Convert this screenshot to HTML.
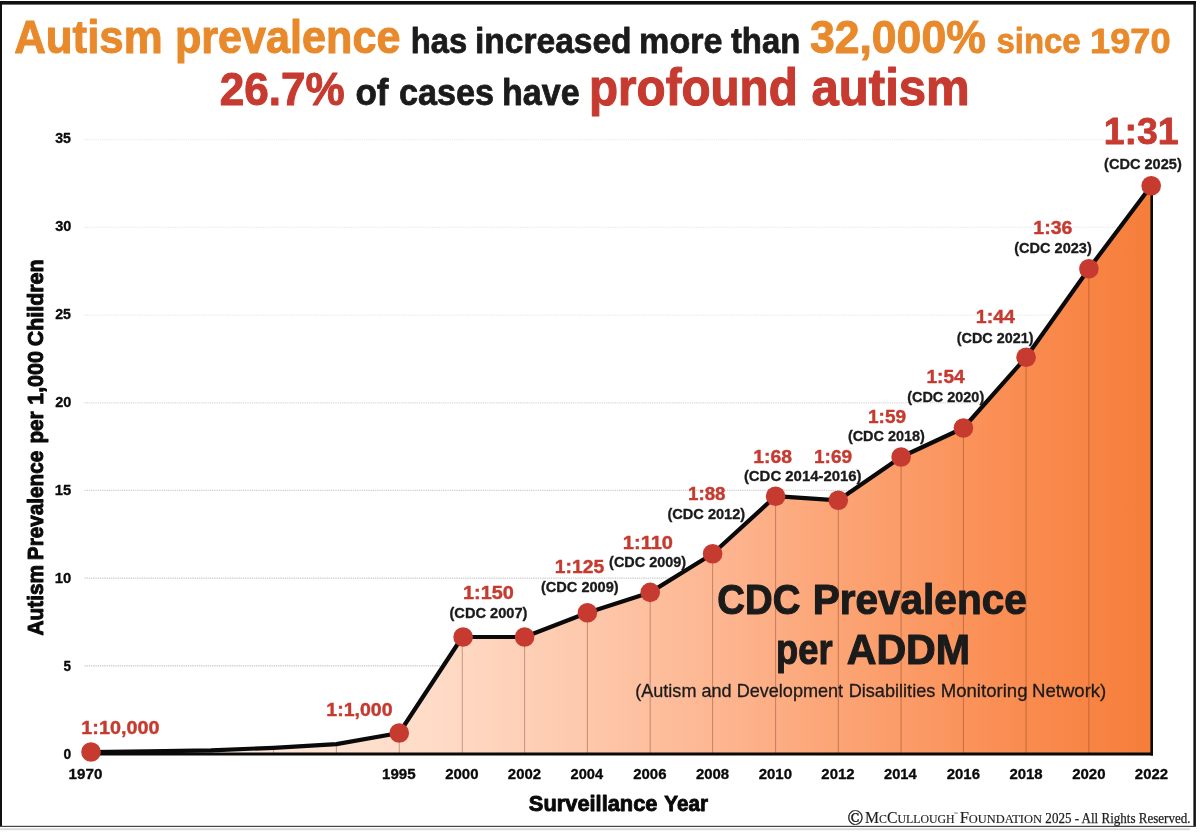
<!DOCTYPE html>
<html lang="en"><head><meta charset="utf-8"><title>Autism prevalence chart</title>
<style>html,body{margin:0;padding:0;background:#fff;}svg{display:block;}text{white-space:pre;}</style></head>
<body>
<svg width="1200" height="834" viewBox="0 0 1200 834">
<defs><linearGradient id="g" gradientUnits="userSpaceOnUse" x1="91" y1="0" x2="1152" y2="0"><stop offset="0" stop-color="#FFF0E6"/><stop offset="0.329" stop-color="#FEDBC6"/><stop offset="0.437" stop-color="#FECCB1"/><stop offset="0.499" stop-color="#FDC3A4"/><stop offset="0.616" stop-color="#FDB28B"/><stop offset="0.678" stop-color="#FCA87B"/><stop offset="0.852" stop-color="#FA8F55"/><stop offset="0.97" stop-color="#F7813F"/><stop offset="1" stop-color="#F67D3A"/></linearGradient></defs>
<rect width="1200" height="834" fill="#fff"/>
<rect x="0" y="1" width="1196" height="3.6" fill="#111"/>
<rect x="0" y="1" width="2" height="826" fill="#111"/>
<rect x="1193.4" y="1" width="2.5" height="826" fill="#111"/>
<rect x="0" y="825.8" width="1196" height="1.2" fill="#444"/>
<rect x="0" y="828.2" width="1190" height="2" fill="#dcdcdc"/>
<line x1="84.5" x2="1151" y1="665.82" y2="665.82" stroke="#c6c6c6" stroke-width="1.3" stroke-dasharray="1.3 0.9"/>
<line x1="84.5" x2="1151" y1="578.13" y2="578.13" stroke="#cacaca" stroke-width="1.3" stroke-dasharray="1.3 0.9"/>
<line x1="84.5" x2="1151" y1="490.44" y2="490.44" stroke="#d0d0d0" stroke-width="1.3" stroke-dasharray="1.3 0.9"/>
<line x1="84.5" x2="1151" y1="402.76" y2="402.76" stroke="#e0e0e0" stroke-width="1.3" stroke-dasharray="1.3 0.9"/>
<line x1="84.5" x2="1151" y1="315.08" y2="315.08" stroke="#eaeaea" stroke-width="1.3" stroke-dasharray="1.3 0.9"/>
<line x1="84.5" x2="1151" y1="227.39" y2="227.39" stroke="#ececec" stroke-width="1.3" stroke-dasharray="1.3 0.9"/>
<line x1="84.5" x2="1151" y1="139.71" y2="139.71" stroke="#ededed" stroke-width="1.3" stroke-dasharray="1.3 0.9"/>
<polygon points="91.00,752.00 148.20,751.40 211.00,750.30 273.60,747.80 336.40,744.10 399.25,733.00 462.30,637.00 524.60,637.00 587.40,612.70 650.20,592.40 712.60,553.80 775.60,496.20 838.30,500.30 901.10,457.00 963.40,428.00 1026.10,357.20 1088.90,268.80 1151.20,185.70 1151.20,753.9 91.00,753.9" fill="url(#g)"/>
<line x1="211.00" x2="211.00" y1="750.30" y2="753.9" stroke="#7a3a1c" stroke-opacity="0.42" stroke-width="1"/>
<line x1="273.60" x2="273.60" y1="747.80" y2="753.9" stroke="#7a3a1c" stroke-opacity="0.42" stroke-width="1"/>
<line x1="336.40" x2="336.40" y1="744.10" y2="753.9" stroke="#7a3a1c" stroke-opacity="0.42" stroke-width="1"/>
<line x1="399.25" x2="399.25" y1="733.00" y2="753.9" stroke="#7a3a1c" stroke-opacity="0.42" stroke-width="1"/>
<line x1="462.30" x2="462.30" y1="637.00" y2="753.9" stroke="#7a3a1c" stroke-opacity="0.42" stroke-width="1"/>
<line x1="524.60" x2="524.60" y1="637.00" y2="753.9" stroke="#7a3a1c" stroke-opacity="0.42" stroke-width="1"/>
<line x1="587.40" x2="587.40" y1="612.70" y2="753.9" stroke="#7a3a1c" stroke-opacity="0.42" stroke-width="1"/>
<line x1="650.20" x2="650.20" y1="592.40" y2="753.9" stroke="#7a3a1c" stroke-opacity="0.42" stroke-width="1"/>
<line x1="712.60" x2="712.60" y1="553.80" y2="753.9" stroke="#7a3a1c" stroke-opacity="0.42" stroke-width="1"/>
<line x1="775.60" x2="775.60" y1="496.20" y2="753.9" stroke="#7a3a1c" stroke-opacity="0.42" stroke-width="1"/>
<line x1="838.30" x2="838.30" y1="500.30" y2="753.9" stroke="#7a3a1c" stroke-opacity="0.42" stroke-width="1"/>
<line x1="901.10" x2="901.10" y1="457.00" y2="753.9" stroke="#7a3a1c" stroke-opacity="0.42" stroke-width="1"/>
<line x1="963.40" x2="963.40" y1="428.00" y2="753.9" stroke="#7a3a1c" stroke-opacity="0.42" stroke-width="1"/>
<line x1="1026.10" x2="1026.10" y1="357.20" y2="753.9" stroke="#7a3a1c" stroke-opacity="0.42" stroke-width="1"/>
<line x1="1088.90" x2="1088.90" y1="268.80" y2="753.9" stroke="#7a3a1c" stroke-opacity="0.42" stroke-width="1"/>
<line x1="91" x2="1153" y1="753.9" y2="753.9" stroke="#0a0a0a" stroke-width="3"/>
<line x1="1151.7" x2="1151.7" y1="186" y2="755.4" stroke="#0a0a0a" stroke-width="2.6"/>
<polyline points="91.00,752.00 148.20,751.40 211.00,750.30 273.60,747.80 336.40,744.10 399.25,733.00 462.30,637.00 524.60,637.00 587.40,612.70 650.20,592.40 712.60,553.80 775.60,496.20 838.30,500.30 901.10,457.00 963.40,428.00 1026.10,357.20 1088.90,268.80 1151.20,185.70" fill="none" stroke="#0a0a0a" stroke-width="4.2" stroke-linejoin="round" stroke-linecap="round"/>
<circle cx="91.00" cy="752.00" r="9.8" fill="#C63A30"/>
<circle cx="399.25" cy="733.00" r="9.8" fill="#C63A30"/>
<circle cx="463.10" cy="637.00" r="9.8" fill="#C63A30"/>
<circle cx="524.60" cy="637.00" r="9.8" fill="#C63A30"/>
<circle cx="587.40" cy="612.70" r="9.8" fill="#C63A30"/>
<circle cx="650.20" cy="592.40" r="9.8" fill="#C63A30"/>
<circle cx="712.60" cy="553.80" r="9.8" fill="#C63A30"/>
<circle cx="775.60" cy="496.20" r="9.8" fill="#C63A30"/>
<circle cx="838.30" cy="500.30" r="9.8" fill="#C63A30"/>
<circle cx="901.10" cy="457.00" r="9.8" fill="#C63A30"/>
<circle cx="963.40" cy="428.00" r="9.8" fill="#C63A30"/>
<circle cx="1026.10" cy="357.20" r="9.8" fill="#C63A30"/>
<circle cx="1088.90" cy="268.80" r="9.8" fill="#C63A30"/>
<circle cx="1151.20" cy="185.70" r="9.8" fill="#C63A30"/>
<text x="14.26" y="53.30" font-family='"Liberation Sans", Arial, sans-serif' font-size="45.6" font-weight="bold" fill="#E8892B" textLength="148.30" lengthAdjust="spacingAndGlyphs" stroke="#E8892B" stroke-width="1.0" stroke-linejoin="round">Autism</text>
<text x="174.94" y="53.30" font-family='"Liberation Sans", Arial, sans-serif' font-size="45.6" font-weight="bold" fill="#E8892B" textLength="225.46" lengthAdjust="spacingAndGlyphs" stroke="#E8892B" stroke-width="1.0" stroke-linejoin="round">prevalence</text>
<text x="410.68" y="53.30" font-family='"Liberation Sans", Arial, sans-serif' font-size="35.0" font-weight="bold" fill="#1b1b1b" textLength="56.45" lengthAdjust="spacingAndGlyphs" stroke="#1b1b1b" stroke-width="0.77" stroke-linejoin="round">has</text>
<text x="475.04" y="53.30" font-family='"Liberation Sans", Arial, sans-serif' font-size="35.0" font-weight="bold" fill="#1b1b1b" textLength="156.55" lengthAdjust="spacingAndGlyphs" stroke="#1b1b1b" stroke-width="0.77" stroke-linejoin="round">increased</text>
<text x="639.10" y="53.30" font-family='"Liberation Sans", Arial, sans-serif' font-size="35.0" font-weight="bold" fill="#1b1b1b" textLength="83.44" lengthAdjust="spacingAndGlyphs" stroke="#1b1b1b" stroke-width="0.77" stroke-linejoin="round">more</text>
<text x="730.93" y="53.30" font-family='"Liberation Sans", Arial, sans-serif' font-size="35.0" font-weight="bold" fill="#1b1b1b" textLength="69.34" lengthAdjust="spacingAndGlyphs" stroke="#1b1b1b" stroke-width="0.77" stroke-linejoin="round">than</text>
<text x="809.91" y="53.30" font-family='"Liberation Sans", Arial, sans-serif' font-size="45.6" font-weight="bold" fill="#E8892B" textLength="175.86" lengthAdjust="spacingAndGlyphs" stroke="#E8892B" stroke-width="1.0" stroke-linejoin="round">32,000%</text>
<text x="996.48" y="53.30" font-family='"Liberation Sans", Arial, sans-serif' font-size="35.0" font-weight="bold" fill="#E8892B" textLength="84.14" lengthAdjust="spacingAndGlyphs" stroke="#E8892B" stroke-width="0.77" stroke-linejoin="round">since</text>
<text x="1090.13" y="53.30" font-family='"Liberation Sans", Arial, sans-serif' font-size="35.0" font-weight="bold" fill="#E8892B" textLength="80.47" lengthAdjust="spacingAndGlyphs" stroke="#E8892B" stroke-width="0.77" stroke-linejoin="round">1970</text>
<text x="219.67" y="105.00" font-family='"Liberation Sans", Arial, sans-serif' font-size="45.6" font-weight="bold" fill="#C63A30" textLength="125.02" lengthAdjust="spacingAndGlyphs" stroke="#C63A30" stroke-width="1.0" stroke-linejoin="round">26.7%</text>
<text x="355.40" y="105.00" font-family='"Liberation Sans", Arial, sans-serif' font-size="36.3" font-weight="bold" fill="#1b1b1b" textLength="33.06" lengthAdjust="spacingAndGlyphs" stroke="#1b1b1b" stroke-width="0.8" stroke-linejoin="round">of</text>
<text x="399.00" y="105.00" font-family='"Liberation Sans", Arial, sans-serif' font-size="36.3" font-weight="bold" fill="#1b1b1b" textLength="95.13" lengthAdjust="spacingAndGlyphs" stroke="#1b1b1b" stroke-width="0.8" stroke-linejoin="round">cases</text>
<text x="501.95" y="105.00" font-family='"Liberation Sans", Arial, sans-serif' font-size="36.3" font-weight="bold" fill="#1b1b1b" textLength="77.66" lengthAdjust="spacingAndGlyphs" stroke="#1b1b1b" stroke-width="0.8" stroke-linejoin="round">have</text>
<text x="589.05" y="105.00" font-family='"Liberation Sans", Arial, sans-serif' font-size="51.5" font-weight="bold" fill="#C63A30" textLength="208.70" lengthAdjust="spacingAndGlyphs" stroke="#C63A30" stroke-width="1.13" stroke-linejoin="round">profound</text>
<text x="811.56" y="105.00" font-family='"Liberation Sans", Arial, sans-serif' font-size="51.5" font-weight="bold" fill="#C63A30" textLength="158.17" lengthAdjust="spacingAndGlyphs" stroke="#C63A30" stroke-width="1.13" stroke-linejoin="round">autism</text>
<text x="63.50" y="759.05" font-family='"Liberation Sans", Arial, sans-serif' font-size="13.8" font-weight="bold" fill="#0a0a0a" textLength="7.69" lengthAdjust="spacingAndGlyphs" stroke="#0a0a0a" stroke-width="0.3" stroke-linejoin="round">0</text>
<text x="63.49" y="671.10" font-family='"Liberation Sans", Arial, sans-serif' font-size="13.8" font-weight="bold" fill="#0a0a0a" textLength="7.49" lengthAdjust="spacingAndGlyphs" stroke="#0a0a0a" stroke-width="0.3" stroke-linejoin="round">5</text>
<text x="54.77" y="583.15" font-family='"Liberation Sans", Arial, sans-serif' font-size="13.8" font-weight="bold" fill="#0a0a0a" textLength="16.51" lengthAdjust="spacingAndGlyphs" stroke="#0a0a0a" stroke-width="0.3" stroke-linejoin="round">10</text>
<text x="54.77" y="495.20" font-family='"Liberation Sans", Arial, sans-serif' font-size="13.8" font-weight="bold" fill="#0a0a0a" textLength="16.44" lengthAdjust="spacingAndGlyphs" stroke="#0a0a0a" stroke-width="0.3" stroke-linejoin="round">15</text>
<text x="55.19" y="407.25" font-family='"Liberation Sans", Arial, sans-serif' font-size="13.8" font-weight="bold" fill="#0a0a0a" textLength="16.14" lengthAdjust="spacingAndGlyphs" stroke="#0a0a0a" stroke-width="0.3" stroke-linejoin="round">20</text>
<text x="55.19" y="319.30" font-family='"Liberation Sans", Arial, sans-serif' font-size="13.8" font-weight="bold" fill="#0a0a0a" textLength="15.79" lengthAdjust="spacingAndGlyphs" stroke="#0a0a0a" stroke-width="0.3" stroke-linejoin="round">25</text>
<text x="55.19" y="231.35" font-family='"Liberation Sans", Arial, sans-serif' font-size="13.8" font-weight="bold" fill="#0a0a0a" textLength="16.13" lengthAdjust="spacingAndGlyphs" stroke="#0a0a0a" stroke-width="0.3" stroke-linejoin="round">30</text>
<text x="55.20" y="143.40" font-family='"Liberation Sans", Arial, sans-serif' font-size="13.8" font-weight="bold" fill="#0a0a0a" textLength="15.79" lengthAdjust="spacingAndGlyphs" stroke="#0a0a0a" stroke-width="0.3" stroke-linejoin="round">35</text>
<text x="68.64" y="778.80" font-family='"Liberation Sans", Arial, sans-serif' font-size="13.8" font-weight="bold" fill="#0a0a0a" textLength="33.74" lengthAdjust="spacingAndGlyphs" stroke="#0a0a0a" stroke-width="0.3" stroke-linejoin="round">1970</text>
<text x="382.05" y="778.80" font-family='"Liberation Sans", Arial, sans-serif' font-size="13.8" font-weight="bold" fill="#0a0a0a" textLength="33.56" lengthAdjust="spacingAndGlyphs" stroke="#0a0a0a" stroke-width="0.3" stroke-linejoin="round">1995</text>
<text x="445.18" y="778.80" font-family='"Liberation Sans", Arial, sans-serif' font-size="13.8" font-weight="bold" fill="#0a0a0a" textLength="33.31" lengthAdjust="spacingAndGlyphs" stroke="#0a0a0a" stroke-width="0.3" stroke-linejoin="round">2000</text>
<text x="507.88" y="778.80" font-family='"Liberation Sans", Arial, sans-serif' font-size="13.8" font-weight="bold" fill="#0a0a0a" textLength="33.15" lengthAdjust="spacingAndGlyphs" stroke="#0a0a0a" stroke-width="0.3" stroke-linejoin="round">2002</text>
<text x="570.58" y="778.80" font-family='"Liberation Sans", Arial, sans-serif' font-size="13.8" font-weight="bold" fill="#0a0a0a" textLength="32.58" lengthAdjust="spacingAndGlyphs" stroke="#0a0a0a" stroke-width="0.3" stroke-linejoin="round">2004</text>
<text x="633.28" y="778.80" font-family='"Liberation Sans", Arial, sans-serif' font-size="13.8" font-weight="bold" fill="#0a0a0a" textLength="33.22" lengthAdjust="spacingAndGlyphs" stroke="#0a0a0a" stroke-width="0.3" stroke-linejoin="round">2006</text>
<text x="695.98" y="778.80" font-family='"Liberation Sans", Arial, sans-serif' font-size="13.8" font-weight="bold" fill="#0a0a0a" textLength="33.21" lengthAdjust="spacingAndGlyphs" stroke="#0a0a0a" stroke-width="0.3" stroke-linejoin="round">2008</text>
<text x="758.68" y="778.80" font-family='"Liberation Sans", Arial, sans-serif' font-size="13.8" font-weight="bold" fill="#0a0a0a" textLength="33.31" lengthAdjust="spacingAndGlyphs" stroke="#0a0a0a" stroke-width="0.3" stroke-linejoin="round">2010</text>
<text x="821.38" y="778.80" font-family='"Liberation Sans", Arial, sans-serif' font-size="13.8" font-weight="bold" fill="#0a0a0a" textLength="33.15" lengthAdjust="spacingAndGlyphs" stroke="#0a0a0a" stroke-width="0.3" stroke-linejoin="round">2012</text>
<text x="884.08" y="778.80" font-family='"Liberation Sans", Arial, sans-serif' font-size="13.8" font-weight="bold" fill="#0a0a0a" textLength="32.58" lengthAdjust="spacingAndGlyphs" stroke="#0a0a0a" stroke-width="0.3" stroke-linejoin="round">2014</text>
<text x="946.78" y="778.80" font-family='"Liberation Sans", Arial, sans-serif' font-size="13.8" font-weight="bold" fill="#0a0a0a" textLength="33.22" lengthAdjust="spacingAndGlyphs" stroke="#0a0a0a" stroke-width="0.3" stroke-linejoin="round">2016</text>
<text x="1009.48" y="778.80" font-family='"Liberation Sans", Arial, sans-serif' font-size="13.8" font-weight="bold" fill="#0a0a0a" textLength="33.21" lengthAdjust="spacingAndGlyphs" stroke="#0a0a0a" stroke-width="0.3" stroke-linejoin="round">2018</text>
<text x="1072.18" y="778.80" font-family='"Liberation Sans", Arial, sans-serif' font-size="13.8" font-weight="bold" fill="#0a0a0a" textLength="33.31" lengthAdjust="spacingAndGlyphs" stroke="#0a0a0a" stroke-width="0.3" stroke-linejoin="round">2020</text>
<text x="1134.88" y="778.80" font-family='"Liberation Sans", Arial, sans-serif' font-size="13.8" font-weight="bold" fill="#0a0a0a" textLength="33.15" lengthAdjust="spacingAndGlyphs" stroke="#0a0a0a" stroke-width="0.3" stroke-linejoin="round">2022</text>
<text x="528.85" y="811.00" font-family='"Liberation Sans", Arial, sans-serif' font-size="22.4" font-weight="bold" fill="#0a0a0a" textLength="128.64" lengthAdjust="spacingAndGlyphs" stroke="#0a0a0a" stroke-width="0.9" stroke-linejoin="round">Surveillance</text>
<text x="664.22" y="811.00" font-family='"Liberation Sans", Arial, sans-serif' font-size="22.4" font-weight="bold" fill="#0a0a0a" textLength="43.73" lengthAdjust="spacingAndGlyphs" stroke="#0a0a0a" stroke-width="0.9" stroke-linejoin="round">Year</text>
<g transform="translate(43.0,635.3) rotate(-90)"><text x="-0.13" y="0.00" font-family='"Liberation Sans", Arial, sans-serif' font-size="22.8" font-weight="bold" fill="#0a0a0a" textLength="70.37" lengthAdjust="spacingAndGlyphs" stroke="#0a0a0a" stroke-width="1.0" stroke-linejoin="round">Autism</text></g>
<g transform="translate(43.0,635.3) rotate(-90)"><text x="75.16" y="0.00" font-family='"Liberation Sans", Arial, sans-serif' font-size="22.8" font-weight="bold" fill="#0a0a0a" textLength="109.45" lengthAdjust="spacingAndGlyphs" stroke="#0a0a0a" stroke-width="1.0" stroke-linejoin="round">Prevalence</text></g>
<g transform="translate(43.0,635.3) rotate(-90)"><text x="191.77" y="0.00" font-family='"Liberation Sans", Arial, sans-serif' font-size="22.8" font-weight="bold" fill="#0a0a0a" textLength="32.14" lengthAdjust="spacingAndGlyphs" stroke="#0a0a0a" stroke-width="1.0" stroke-linejoin="round">per</text></g>
<g transform="translate(43.0,635.3) rotate(-90)"><text x="230.52" y="0.00" font-family='"Liberation Sans", Arial, sans-serif' font-size="22.8" font-weight="bold" fill="#0a0a0a" textLength="53.75" lengthAdjust="spacingAndGlyphs" stroke="#0a0a0a" stroke-width="1.0" stroke-linejoin="round">1,000</text></g>
<g transform="translate(43.0,635.3) rotate(-90)"><text x="289.08" y="0.00" font-family='"Liberation Sans", Arial, sans-serif' font-size="22.8" font-weight="bold" fill="#0a0a0a" textLength="86.82" lengthAdjust="spacingAndGlyphs" stroke="#0a0a0a" stroke-width="1.0" stroke-linejoin="round">Children</text></g>
<text x="81.38" y="734.20" font-family='"Liberation Sans", Arial, sans-serif' font-size="19.0" font-weight="bold" fill="#C63A30" textLength="78.04" lengthAdjust="spacingAndGlyphs" stroke="#C63A30" stroke-width="0.42" stroke-linejoin="round">1:10,000</text>
<text x="326.39" y="715.80" font-family='"Liberation Sans", Arial, sans-serif' font-size="19.0" font-weight="bold" fill="#C63A30" textLength="66.22" lengthAdjust="spacingAndGlyphs" stroke="#C63A30" stroke-width="0.42" stroke-linejoin="round">1:1,000</text>
<text x="463.08" y="599.20" font-family='"Liberation Sans", Arial, sans-serif' font-size="19.0" font-weight="bold" fill="#C63A30" textLength="50.81" lengthAdjust="spacingAndGlyphs" stroke="#C63A30" stroke-width="0.42" stroke-linejoin="round">1:150</text>
<text x="449.49" y="617.50" font-family='"Liberation Sans", Arial, sans-serif' font-size="14.8" font-weight="bold" fill="#1b1b1b" textLength="78.02" lengthAdjust="spacingAndGlyphs" stroke="#1b1b1b" stroke-width="0.33" stroke-linejoin="round">(CDC 2007)</text>
<text x="554.89" y="573.00" font-family='"Liberation Sans", Arial, sans-serif' font-size="19.0" font-weight="bold" fill="#C63A30" textLength="49.40" lengthAdjust="spacingAndGlyphs" stroke="#C63A30" stroke-width="0.42" stroke-linejoin="round">1:125</text>
<text x="540.99" y="592.00" font-family='"Liberation Sans", Arial, sans-serif' font-size="14.8" font-weight="bold" fill="#1b1b1b" textLength="77.69" lengthAdjust="spacingAndGlyphs" stroke="#1b1b1b" stroke-width="0.33" stroke-linejoin="round">(CDC 2009)</text>
<text x="622.87" y="548.60" font-family='"Liberation Sans", Arial, sans-serif' font-size="19.0" font-weight="bold" fill="#C63A30" textLength="50.09" lengthAdjust="spacingAndGlyphs" stroke="#C63A30" stroke-width="0.42" stroke-linejoin="round">1:110</text>
<text x="609.10" y="567.40" font-family='"Liberation Sans", Arial, sans-serif' font-size="14.8" font-weight="bold" fill="#1b1b1b" textLength="77.01" lengthAdjust="spacingAndGlyphs" stroke="#1b1b1b" stroke-width="0.33" stroke-linejoin="round">(CDC 2009)</text>
<text x="688.02" y="500.00" font-family='"Liberation Sans", Arial, sans-serif' font-size="19.0" font-weight="bold" fill="#C63A30" textLength="37.52" lengthAdjust="spacingAndGlyphs" stroke="#C63A30" stroke-width="0.42" stroke-linejoin="round">1:88</text>
<text x="667.49" y="519.00" font-family='"Liberation Sans", Arial, sans-serif' font-size="14.8" font-weight="bold" fill="#1b1b1b" textLength="77.69" lengthAdjust="spacingAndGlyphs" stroke="#1b1b1b" stroke-width="0.33" stroke-linejoin="round">(CDC 2012)</text>
<text x="753.29" y="462.60" font-family='"Liberation Sans", Arial, sans-serif' font-size="19.0" font-weight="bold" fill="#C63A30" textLength="38.67" lengthAdjust="spacingAndGlyphs" stroke="#C63A30" stroke-width="0.42" stroke-linejoin="round">1:68</text>
<text x="814.00" y="462.60" font-family='"Liberation Sans", Arial, sans-serif' font-size="19.0" font-weight="bold" fill="#C63A30" textLength="38.05" lengthAdjust="spacingAndGlyphs" stroke="#C63A30" stroke-width="0.42" stroke-linejoin="round">1:69</text>
<text x="743.90" y="481.00" font-family='"Liberation Sans", Arial, sans-serif' font-size="14.8" font-weight="bold" fill="#1b1b1b" textLength="117.67" lengthAdjust="spacingAndGlyphs" stroke="#1b1b1b" stroke-width="0.33" stroke-linejoin="round">(CDC 2014-2016)</text>
<text x="868.00" y="423.00" font-family='"Liberation Sans", Arial, sans-serif' font-size="19.0" font-weight="bold" fill="#C63A30" textLength="38.05" lengthAdjust="spacingAndGlyphs" stroke="#C63A30" stroke-width="0.42" stroke-linejoin="round">1:59</text>
<text x="847.90" y="441.40" font-family='"Liberation Sans", Arial, sans-serif' font-size="14.8" font-weight="bold" fill="#1b1b1b" textLength="77.01" lengthAdjust="spacingAndGlyphs" stroke="#1b1b1b" stroke-width="0.33" stroke-linejoin="round">(CDC 2018)</text>
<text x="926.40" y="383.00" font-family='"Liberation Sans", Arial, sans-serif' font-size="19.0" font-weight="bold" fill="#C63A30" textLength="38.37" lengthAdjust="spacingAndGlyphs" stroke="#C63A30" stroke-width="0.42" stroke-linejoin="round">1:54</text>
<text x="907.20" y="402.40" font-family='"Liberation Sans", Arial, sans-serif' font-size="14.8" font-weight="bold" fill="#1b1b1b" textLength="77.01" lengthAdjust="spacingAndGlyphs" stroke="#1b1b1b" stroke-width="0.33" stroke-linejoin="round">(CDC 2020)</text>
<text x="975.89" y="323.40" font-family='"Liberation Sans", Arial, sans-serif' font-size="19.0" font-weight="bold" fill="#C63A30" textLength="39.12" lengthAdjust="spacingAndGlyphs" stroke="#C63A30" stroke-width="0.42" stroke-linejoin="round">1:44</text>
<text x="956.80" y="343.00" font-family='"Liberation Sans", Arial, sans-serif' font-size="14.8" font-weight="bold" fill="#1b1b1b" textLength="76.75" lengthAdjust="spacingAndGlyphs" stroke="#1b1b1b" stroke-width="0.33" stroke-linejoin="round">(CDC 2021)</text>
<text x="1033.39" y="234.20" font-family='"Liberation Sans", Arial, sans-serif' font-size="19.0" font-weight="bold" fill="#C63A30" textLength="39.03" lengthAdjust="spacingAndGlyphs" stroke="#C63A30" stroke-width="0.42" stroke-linejoin="round">1:36</text>
<text x="1014.20" y="253.20" font-family='"Liberation Sans", Arial, sans-serif' font-size="14.8" font-weight="bold" fill="#1b1b1b" textLength="77.56" lengthAdjust="spacingAndGlyphs" stroke="#1b1b1b" stroke-width="0.33" stroke-linejoin="round">(CDC 2023)</text>
<text x="1103.76" y="144.20" font-family='"Liberation Sans", Arial, sans-serif' font-size="36.0" font-weight="bold" fill="#C63A30" textLength="74.88" lengthAdjust="spacingAndGlyphs" stroke="#C63A30" stroke-width="0.79" stroke-linejoin="round">1:31</text>
<text x="1104.09" y="168.60" font-family='"Liberation Sans", Arial, sans-serif' font-size="14.8" font-weight="bold" fill="#1b1b1b" textLength="77.66" lengthAdjust="spacingAndGlyphs" stroke="#1b1b1b" stroke-width="0.33" stroke-linejoin="round">(CDC 2025)</text>
<text x="717.33" y="614.00" font-family='"Liberation Sans", Arial, sans-serif' font-size="42.5" font-weight="bold" fill="#1b1b1b" textLength="83.03" lengthAdjust="spacingAndGlyphs" stroke="#1b1b1b" stroke-width="1.1" stroke-linejoin="round">CDC</text>
<text x="812.65" y="614.00" font-family='"Liberation Sans", Arial, sans-serif' font-size="42.5" font-weight="bold" fill="#1b1b1b" textLength="214.15" lengthAdjust="spacingAndGlyphs" stroke="#1b1b1b" stroke-width="1.1" stroke-linejoin="round">Prevalence</text>
<text x="776.05" y="664.10" font-family='"Liberation Sans", Arial, sans-serif' font-size="42.5" font-weight="bold" fill="#1b1b1b" textLength="56.50" lengthAdjust="spacingAndGlyphs" stroke="#1b1b1b" stroke-width="1.1" stroke-linejoin="round">per</text>
<text x="846.67" y="664.10" font-family='"Liberation Sans", Arial, sans-serif' font-size="42.5" font-weight="bold" fill="#1b1b1b" textLength="123.48" lengthAdjust="spacingAndGlyphs" stroke="#1b1b1b" stroke-width="1.1" stroke-linejoin="round">ADDM</text>
<text x="635.19" y="696.50" font-family='"Liberation Sans", Arial, sans-serif' font-size="18.4" font-weight="normal" fill="#1b1b1b" textLength="207.94" lengthAdjust="spacingAndGlyphs" stroke="#1b1b1b" stroke-width="0.3" stroke-linejoin="round">(Autism and Development</text>
<text x="848.69" y="696.50" font-family='"Liberation Sans", Arial, sans-serif' font-size="18.4" font-weight="normal" fill="#1b1b1b" textLength="86.66" lengthAdjust="spacingAndGlyphs" stroke="#1b1b1b" stroke-width="0.3" stroke-linejoin="round">Disabilities</text>
<text x="940.66" y="696.50" font-family='"Liberation Sans", Arial, sans-serif' font-size="18.4" font-weight="normal" fill="#1b1b1b" textLength="86.83" lengthAdjust="spacingAndGlyphs" stroke="#1b1b1b" stroke-width="0.3" stroke-linejoin="round">Monitoring</text>
<text x="1031.96" y="696.50" font-family='"Liberation Sans", Arial, sans-serif' font-size="18.4" font-weight="normal" fill="#1b1b1b" textLength="74.36" lengthAdjust="spacingAndGlyphs" stroke="#1b1b1b" stroke-width="0.3" stroke-linejoin="round">Network)</text>
<text x="847.57" y="824.60" font-family='"Liberation Serif", "Times New Roman", serif' font-size="20.0" font-weight="normal" fill="#1e1e1e" textLength="15.73" lengthAdjust="spacingAndGlyphs" stroke="#1e1e1e" stroke-width="0.45" stroke-linejoin="round">©</text>
<text x="865.03" y="822.70" font-family='"Liberation Serif", "Times New Roman", serif' font-size="16" font-weight="normal" fill="#1e1e1e" textLength="89.60" lengthAdjust="spacingAndGlyphs" stroke="#1e1e1e" stroke-width="0.15" stroke-linejoin="round">M<tspan font-size="12">C</tspan>C<tspan font-size="12">ULLOUGH</tspan></text>
<text x="954.34" y="815.00" font-family='"Liberation Serif", "Times New Roman", serif' font-size="4.2" font-weight="normal" fill="#1e1e1e" textLength="3.31" lengthAdjust="spacingAndGlyphs">™</text>
<text x="959.65" y="822.70" font-family='"Liberation Serif", "Times New Roman", serif' font-size="16" font-weight="normal" fill="#1e1e1e" textLength="82.27" lengthAdjust="spacingAndGlyphs" stroke="#1e1e1e" stroke-width="0.15" stroke-linejoin="round">F<tspan font-size="12">OUNDATION</tspan></text>
<text x="1045.36" y="822.70" font-family='"Liberation Serif", "Times New Roman", serif' font-size="14.3" font-weight="normal" fill="#1e1e1e" textLength="145.18" lengthAdjust="spacingAndGlyphs" stroke="#1e1e1e" stroke-width="0.25" stroke-linejoin="round">2025 - All Rights Reserved.</text>
</svg>
</body></html>
